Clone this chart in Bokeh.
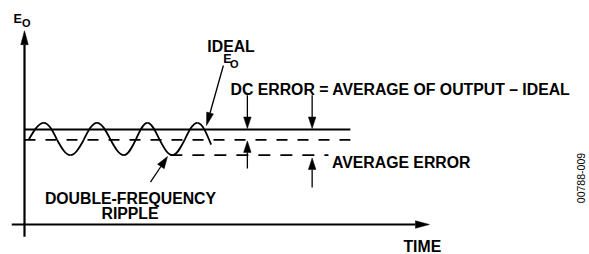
import math
from bokeh.plotting import figure
from bokeh.models import Range1d, Label
from bokeh.embed import file_html
from bokeh.resources import INLINE

# ---------------- data (time in ripple periods, output relative to ideal E_O) ----------------
IDEAL_LEVEL = 1.00          # ideal E_O
AVERAGE_LEVEL = 0.89        # average of output
AVG_ERROR_LEVEL = 0.73      # average-error marker level
LEVEL_T = [0.0, 6.39]       # extent of ideal / average lines
AVG_ERROR_T = [2.86, 5.96]  # extent of lower dashed line

# ripple key points: crossing, extreme, crossing, extreme, ...
RIPPLE_T = [0.08, 0.38, 0.64, 0.90, 1.16, 1.42, 1.69, 1.95, 2.18, 2.41, 2.65, 2.90, 3.14, 3.39, 3.66]
RIPPLE_V = [0.89, 1.07, 0.89, 0.73, 0.89, 1.07, 0.89, 0.73, 0.89, 1.07, 0.89, 0.73, 0.89, 1.07, 0.84]

DC_ARROW_T = [4.37, 5.64]
DC_ARROW_TOP = 1.36
ERR_ARROW_BOTTOM = [0.59, 0.39]
ERR_ARROW_TIP = [0.88, 0.70]

# ---------------- layout ----------------
W, H = 589, 254
SX, SY = 51.0, 95.0          # px per unit
X0_PX, Y0_PX = 24.0, 30.0    # origin offset inside the frame

FONT = "Liberation Sans"
BIG = "15.8px"
LW = 1.8

p = figure(width=W, height=H, output_backend="svg", toolbar_location=None,
           x_range=Range1d(-X0_PX / SX, (W - X0_PX) / SX),
           y_range=Range1d(-Y0_PX / SY, (H - Y0_PX) / SY),
           x_axis_location=None, y_axis_location=None, min_border=0)
p.grid.visible = False
p.outline_line_color = None
p.background_fill_color = "white"
p.border_fill_color = "white"

# levels
p.line(LEVEL_T, [IDEAL_LEVEL] * 2, line_color="black", line_width=LW)
p.line(LEVEL_T, [AVERAGE_LEVEL] * 2, line_color="black", line_width=LW, line_dash="11 10")
p.line(AVG_ERROR_T, [AVG_ERROR_LEVEL] * 2, line_color="black", line_width=LW, line_dash="12 10")

# ripple as quarter-wave cubic Bezier segments
A, B, K = 0.3261, 0.6381, 0.5123
bx0, by0, bx1, by1, c0x, c0y, c1x, c1y = [], [], [], [], [], [], [], []
for i in range(len(RIPPLE_T) - 1):
    x0, y0, x1, y1 = RIPPLE_T[i], RIPPLE_V[i], RIPPLE_T[i + 1], RIPPLE_V[i + 1]
    dx, dy = x1 - x0, y1 - y0
    if i % 2 == 0:   # crossing -> extreme
        p1 = (x0 + A * dx, y0 + K * dy)
        p2 = (x0 + B * dx, y1)
    else:            # extreme -> crossing
        p1 = (x0 + (1 - B) * dx, y0)
        p2 = (x0 + (1 - A) * dx, y1 - K * dy)
    bx0.append(x0); by0.append(y0); bx1.append(x1); by1.append(y1)
    c0x.append(p1[0]); c0y.append(p1[1]); c1x.append(p2[0]); c1y.append(p2[1])
p.bezier(x0=bx0, y0=by0, x1=bx1, y1=by1, cx0=c0x, cy0=c0y, cx1=c1x, cy1=c1y,
         line_color="black", line_width=LW)


def arrow(x0, y0, x1, y1, L, Wd, lw):
    dx, dy = (x1 - x0) * SX, (y1 - y0) * SY
    n = math.hypot(dx, dy)
    ux, uy = dx / n, dy / n
    bx, by = x1 * SX - L * ux, y1 * SY - L * uy
    px, py = -uy, ux
    p.segment(x0=[x0], y0=[y0], x1=[bx / SX], y1=[by / SY], line_color="black", line_width=lw)
    xs = [x1, (bx + Wd / 2 * px) / SX, (bx - Wd / 2 * px) / SX]
    ys = [y1, (by + Wd / 2 * py) / SY, (by - Wd / 2 * py) / SY]
    p.patch(xs, ys, fill_color="black", line_color="black", line_width=0.5)


# axes
arrow(0.0, -0.13, 0.0, 2.04, 14, 7.5, 2.2)
arrow(-0.25, 0.0, 7.94, 0.0, 14, 7.5, 2.2)
# DC error / average error arrows
for t in DC_ARROW_T:
    arrow(t, DC_ARROW_TOP, t, IDEAL_LEVEL + 0.01, 11.5, 7.5, 1.3)
for t, b, tip in zip(DC_ARROW_T, ERR_ARROW_BOTTOM, ERR_ARROW_TIP):
    arrow(t, b, t, tip, 11.5, 7.5, 1.3)
# pointer arrows
arrow(3.90, 1.674, 3.569, 1.042, 13, 7, 1.3)
arrow(2.47, 0.445, 2.804, 0.716, 12, 8, 1.3)


def label(x, y, text, size=BIG, align="left", style="bold", angle=0.0, baseline="alphabetic"):
    p.add_layout(Label(x=x, y=y, text=text, text_font=FONT, text_font_size=size,
                       text_font_style=style, text_align=align, text_baseline=baseline,
                       text_color="black", angle=angle))


label(-0.216, 2.168, "E", size="12.5px")
label(-0.049, 2.121, "O", size="11px")
label(4.05, 1.877, "IDEAL", align="center")
label(3.896, 1.737, "E", size="12.5px")
label(4.029, 1.692, "O", size="11px")
label(4.04, 1.421, "DC ERROR = AVERAGE OF OUTPUT \u2013 IDEAL")
label(6.03, 0.653, "AVERAGE ERROR")
label(2.078, 0.274, "DOUBLE-FREQUENCY", align="center")
label(2.069, 0.116, "RIPPLE", align="center")
label(7.43, -0.232, "TIME")
label(10.92, 0.489, "00788-009", size="10.5px", align="center", style="normal",
      angle=math.pi / 2, baseline="middle")

open("out.html", "w").write(file_html(p, INLINE))
